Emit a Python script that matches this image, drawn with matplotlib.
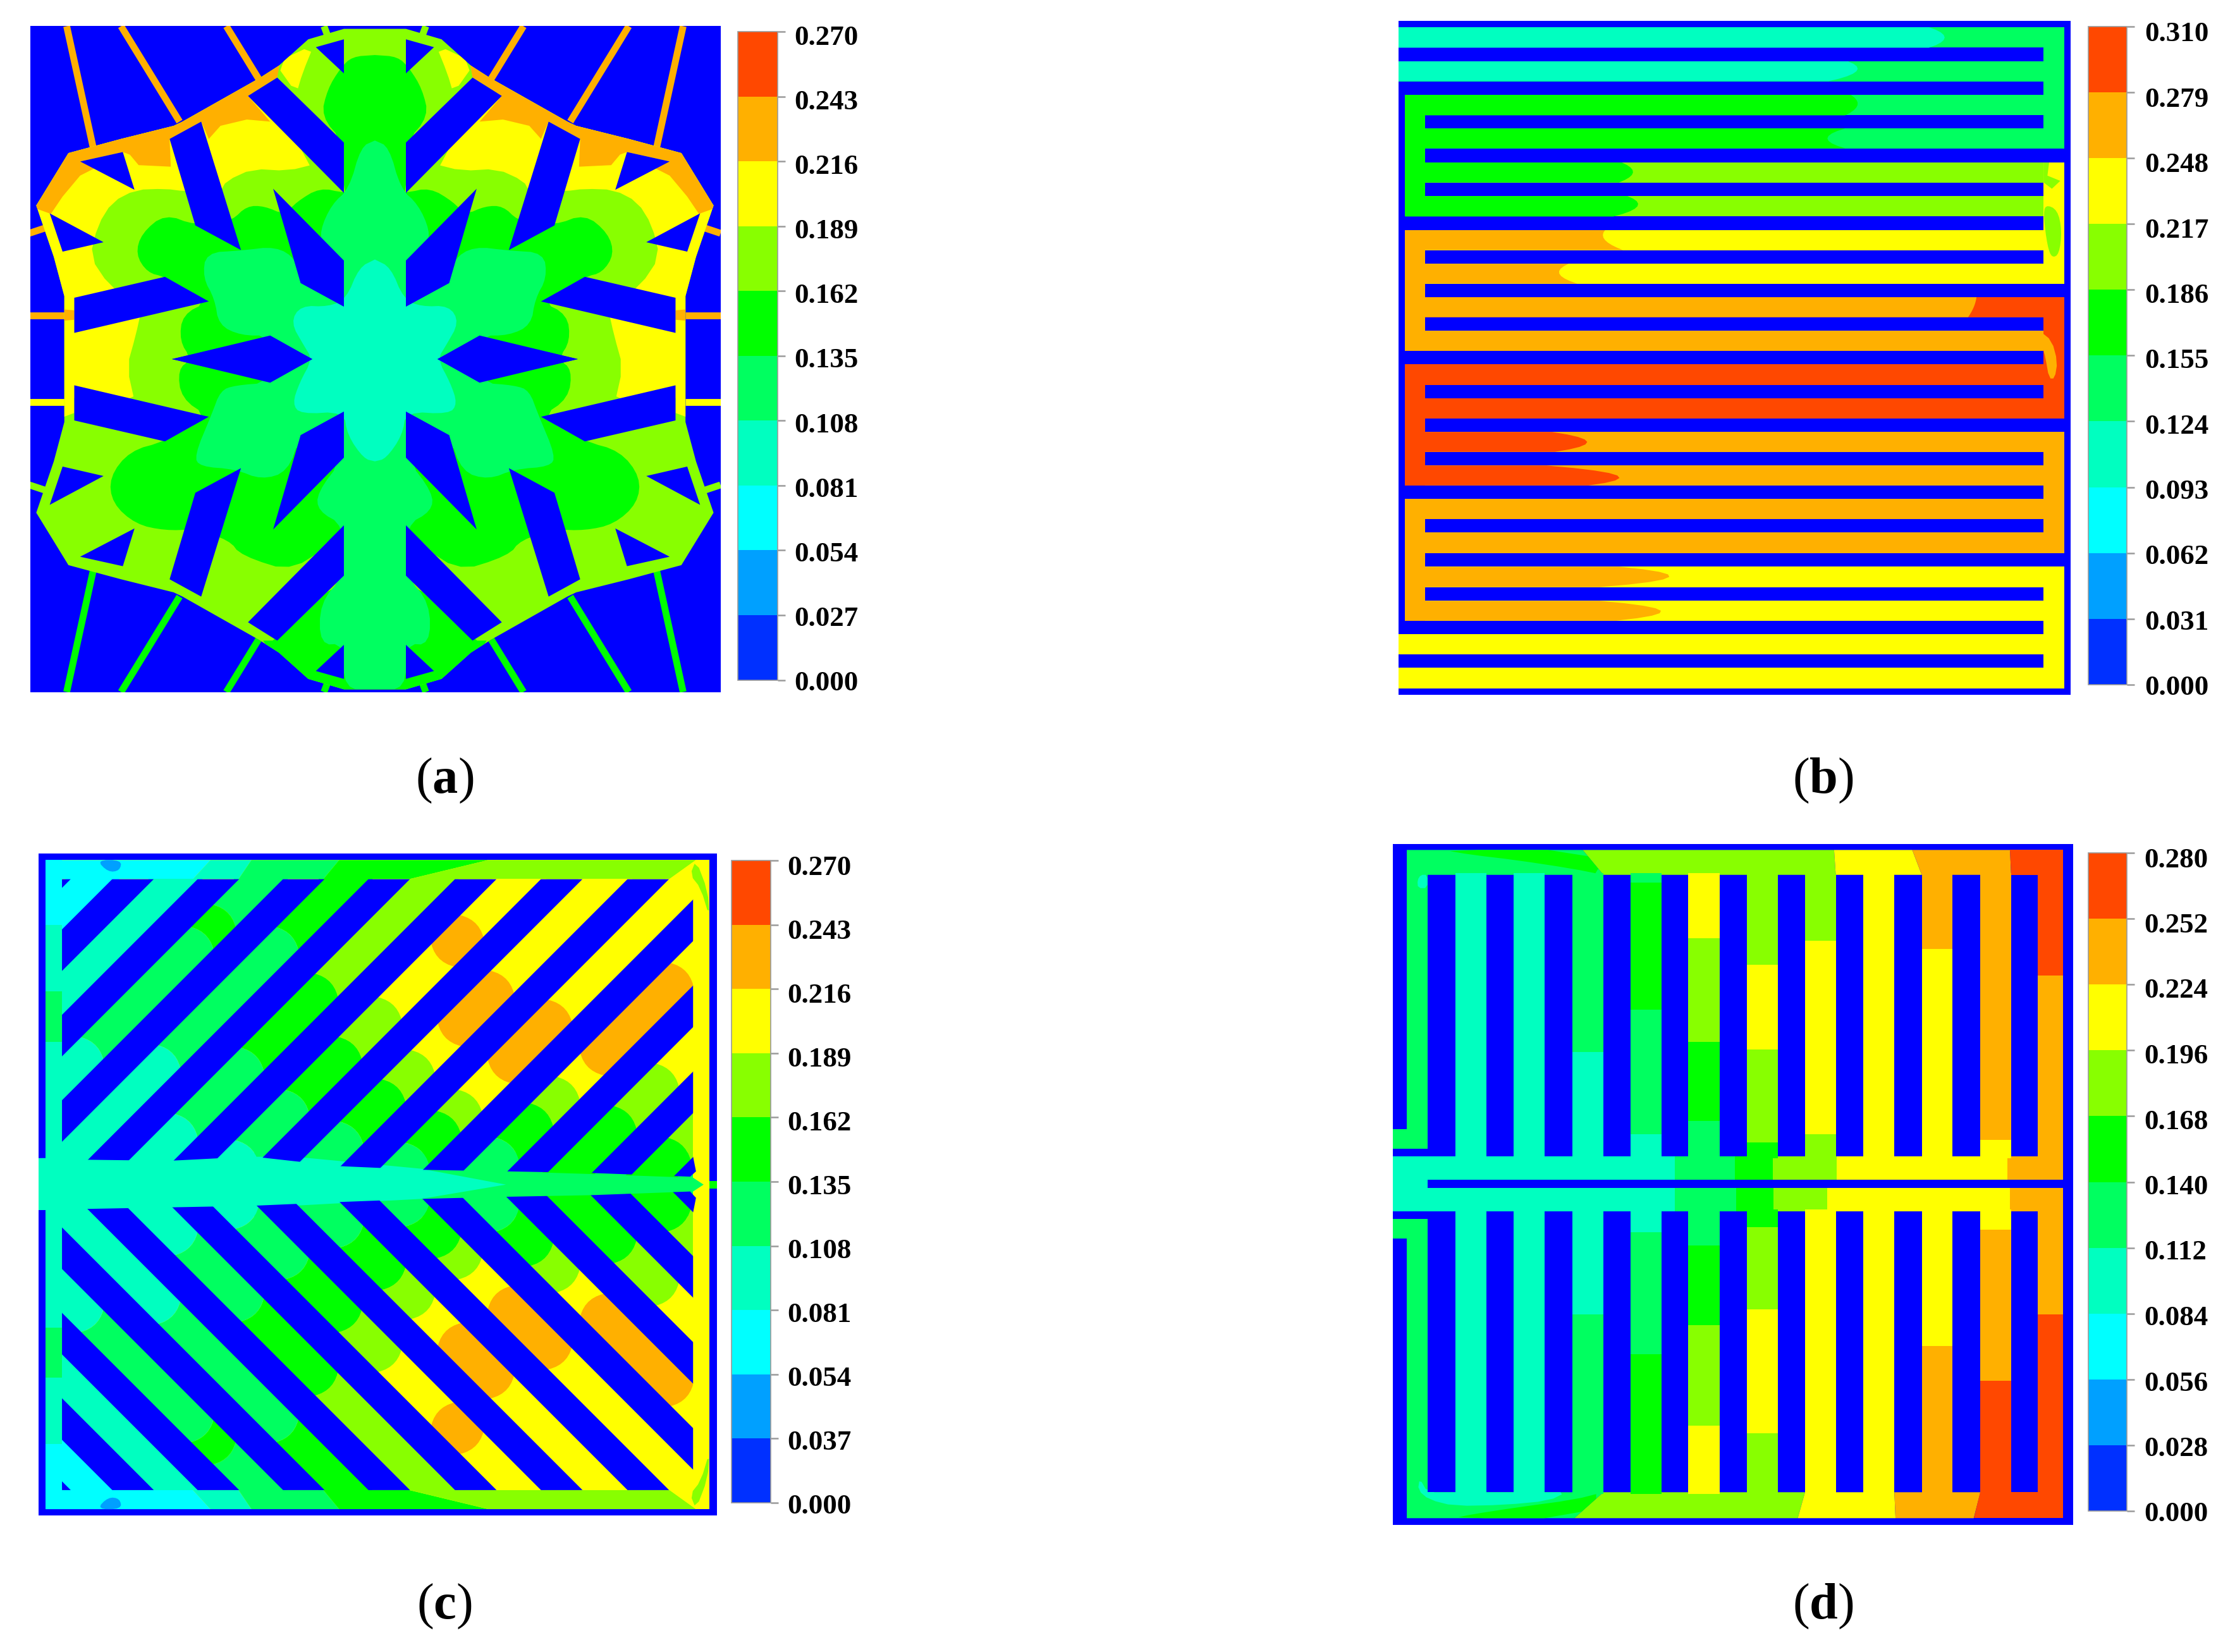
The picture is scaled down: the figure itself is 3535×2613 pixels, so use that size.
"""
Four contour panels of a flow-field channel plate with discrete 10 band colour bars.
Shapes are traced from the picture, coordinates are crop coordinates of each panel.
"""
import numpy as np
import matplotlib
matplotlib.use("Agg")
import matplotlib.pyplot as plt
from matplotlib.colors import ListedColormap, BoundaryNorm
from matplotlib.colorbar import ColorbarBase
from matplotlib.patches import Polygon

W, H = 3535, 2613
plt.rcParams["font.family"] = ["Liberation Serif", "DejaVu Serif"]
plt.rcParams["mathtext.fontset"] = "custom"
plt.rcParams["mathtext.bf"] = "Liberation Serif:bold"
plt.rcParams["mathtext.rm"] = "Liberation Serif"

# ---- colour bands ----
WALL = "#0000ff"
BAND_COLORS = ["#0030ff", "#00a0ff", "#00ffff", "#00ffc0", "#00ff60",
               "#00ff00", "#88ff00", "#ffff00", "#ffb000", "#ff4800"]

# ---- colour bar labels ----
TICKS_A = [0.000, 0.027, 0.054, 0.081, 0.108, 0.135, 0.162, 0.189, 0.216, 0.243, 0.270]
TICKS_B = [0.000, 0.031, 0.062, 0.093, 0.124, 0.155, 0.186, 0.217, 0.248, 0.279, 0.310]
TICKS_C = [0.000, 0.037, 0.054, 0.081, 0.108, 0.135, 0.162, 0.189, 0.216, 0.243, 0.270]
TICKS_D = [0.000, 0.028, 0.056, 0.084, 0.112, 0.140, 0.168, 0.196, 0.224, 0.252, 0.280]

# ---- panel a: snowflake, right half, mirrored in x about 641 and y about 685 ----
A_OUTLINE = [(641, 55), (694, 55), (755, 75), (805, 125), (840, 150), (970, 232), (985, 240),
             (1075, 265), (1165, 292), (1220, 392), (1190, 490), (1172, 565), (1172, 685)]
A_OBSTACLES = [
    [(694, 75), (742, 90), (694, 140)],
    [(694, 272), (808, 148), (858, 183), (694, 368)],
    [(694, 497), (815, 360), (768, 540), (694, 585)],
    [(938, 232), (992, 265), (948, 430), (870, 477)],
    [(1072, 290), (1145, 308), (1052, 362)],
    [(1197, 407), (1175, 480), (1105, 462)],
    [(1000, 528), (1155, 568), (1155, 635), (925, 575)],
    [(820, 640), (988, 685), (820, 728), (748, 685)],
]
# rib start, rib end, band
A_RIBS = [((840, 150), (895, 50), 8), ((975, 232), (1075, 50), 8), ((1122, 285), (1168, 50), 8),
          ((1205, 435), (1232, 445), 8), ((1172, 602), (1232, 602), 8), ((1172, 767), (1232, 767), 7),
          ((1205, 935), (1232, 925), 6), ((1122, 1085), (1168, 1320), 5), ((975, 1138), (1075, 1320), 5),
          ((840, 1220), (895, 1320), 5), ((722, 68), (728, 50), 6), ((722, 1302), (728, 1320), 5)]
A_YELLOW = [(740, 312), (790, 326), (850, 322), (895, 345), (905, 365), (965, 365), (1000, 360),
            (1050, 362), (1090, 385), (1115, 430), (1128, 490), (1095, 545), (1040, 590), (1050, 640),
            (1065, 700), (1050, 775), (1155, 745), (1155, 802), (1300, 805), (1300, 0), (870, 0),
            (830, 150), (858, 183)]
A_YELLOW_TOP = [(745, 85), (812, 120), (775, 178), (765, 140)]
A_ORANGE = [(800, 100), (1000, 200), (1180, 270), (1240, 390), (1195, 408), (1175, 375), (1145, 335),
            (1115, 318), (1145, 308), (1072, 290), (1060, 295), (1045, 315), (990, 318), (992, 265),
            (938, 232), (925, 265), (905, 240), (860, 228), (820, 232), (858, 183), (808, 148)]
A_ORANGE_STUB = [(1155, 592), (1175, 590), (1175, 612), (1155, 610)]
A_GREEN = [(641, 368), (694, 368), (735, 358), (775, 385), (795, 410), (830, 393), (860, 393), (885, 420),
           (905, 420), (948, 430), (1000, 408), (1040, 445), (1050, 485), (1030, 520), (1000, 528),
           (925, 575), (970, 600), (975, 650), (955, 685), (978, 705), (972, 760), (925, 795),
           (1000, 842), (1060, 860), (1095, 910), (1090, 960), (1050, 1000), (1000, 1012), (950, 1010),
           (890, 1030), (870, 1060), (775, 1093), (694, 1002), (641, 1002)]
A_GREEN_TOP = [(641, 105), (680, 108), (700, 130), (722, 170), (733, 222), (694, 272), (694, 400), (641, 400)]
A_GREEN_BOTTOM = [(641, 1130), (694, 1098), (808, 1222), (840, 1222), (770, 1290), (694, 1325), (641, 1325)]
A_SPRING = [(641, 268), (665, 280), (685, 360), (715, 390), (735, 440), (730, 470), (694, 497), (768, 540),
            (775, 495), (810, 470), (870, 478), (930, 482), (935, 530), (915, 570), (908, 620), (870, 640),
            (820, 640), (820, 730), (880, 735), (905, 745), (920, 790), (950, 870), (940, 890), (880, 895),
            (835, 915), (790, 900), (768, 830), (694, 873), (740, 940), (738, 975), (694, 1002), (694, 1098),
            (735, 1150), (735, 1230), (694, 1228), (694, 1315), (641, 1315)]
A_CENTER = [(641, 495), (668, 510), (690, 570), (720, 585), (768, 583), (785, 615), (762, 660), (748, 685),
            (770, 730), (782, 770), (768, 790), (694, 785), (688, 830), (660, 875), (641, 880)]

# ---- panel b: serpentine rows ----
B_ROW_TOP = [52, 117, 181, 245, 310, 374, 439, 503, 567, 631, 695, 760, 824, 888, 952, 1016, 1081, 1146, 1210, 1274]
B_ROW_BOT = [91, 155, 220, 283, 348, 413, 477, 541, 605, 669, 734, 798, 862, 926, 990, 1055, 1120, 1184, 1248, 1313]
B_ROW_START = [70, 70, 82, 82, 82, 82, 82, 82, 82, 82, 82, 82, 82, 82, 82, 82, 82, 82, 70, 70]
B_ROW_LEFT = [3, 3, 5, 5, 5, 5, 8, 8, 8, 8, 9, 9, 9, 9, 8, 8, 8, 8, 7, 7]
B_ROW_RIGHT = [4, 4, 4, 4, 6, 6, 7, 7, 9, 8, 9, 9, 8, 8, 8, 8, 7, 7, 7, 7]
B_EDGE_TOP = [1020, 875, 880, 870, 470, 480, 440, 375, 1105, 600, 600, 600, 345, 335, 600, 600, 465, 430, 600, 600]
B_TIP = [1048, 890, 892, 838, 490, 498, 440, 358, 1100, 600, 600, 600, 408, 462, 600, 600, 555, 540, 600, 600]
B_EDGE_BOT = [1020, 840, 870, 870, 465, 455, 472, 390, 1090, 600, 600, 600, 350, 410, 600, 600, 430, 460, 600, 600]
# connectors: top, bottom, band
B_LEFT_TURNS = [(181, 413, 5), (439, 669, 8), (695, 926, 9), (952, 1184, 8)]
B_RIGHT_TURNS = [(52, 283, 4), (310, 541, 7), (567, 798, 9), (824, 1055, 8), (1081, 1313, 7)]
B_LIME_TONGUE = [(1225, 413), (1228, 390), (1250, 400), (1258, 440), (1253, 485), (1240, 492), (1232, 470)]
B_LIME_TIP = [(1225, 310), (1235, 310), (1232, 335), (1255, 345), (1240, 360), (1225, 348)]
B_ORANGE_TONGUE = [(1218, 631), (1240, 650), (1250, 690), (1245, 722), (1235, 722), (1228, 680), (1225, 669)]

# ---- panel c: diagonal channels, upper half, mirrored in y about 685 ----
C_STRIPE_X = [50, 192, 338, 484, 630, 778, 925, 1073, 1220, 1367, 1514, 1660]
C_CHANNEL_X = [120, 262, 408, 553, 700, 850, 997, 1146, 1290, 1437, 1584]
C_CHANNEL_Y = [[108],
               [108],
               [108, 180, 222, 430],
               [108, 222, 445],
               [108, 310, 450, 575],
               [108, 200, 250, 355, 430, 530, 625],
               [108, 305, 400, 455, 510, 590],
               [108, 360, 470, 530, 570, 630],
               [108, 290, 455, 505, 555, 620],
               [108, 480, 560],
               [108, 620]]
C_CHANNEL_BAND = [[2],
                  [3],
                  [4, 5, 4, 3],
                  [5, 4, 3],
                  [6, 5, 4, 3],
                  [7, 8, 7, 6, 5, 4, 3],
                  [7, 8, 7, 6, 5, 4],
                  [7, 8, 7, 6, 5, 4],
                  [7, 8, 7, 6, 5, 4],
                  [7, 6, 5],
                  [6, 5]]
C_TOP_X_WALL = [78, 360, 430, 580, 835, 1190, 1213]
C_TOP_X_EDGE = [78, 330, 408, 553, 700, 1145, 1213]
C_TOP_BAND = [2, 3, 4, 5, 6, 7]
C_LEFT_Y = [72, 195, 320, 415, 685]
C_LEFT_BAND = [2, 3, 4, 3]
C_STRIPE_CLIP_UP = [(106, 108), (1185, 108), (1185, 632), (1190, 660), (1180, 670), (1010, 663), (865, 660),
                    (720, 657), (578, 650), (432, 632), (290, 640), (145, 638), (106, 638)]
C_STRIPE_CLIP_LOW = [(106, 1262), (1185, 1262), (1185, 738), (1190, 710), (1180, 698), (1010, 705), (865, 708),
                     (720, 712), (578, 718), (432, 725), (290, 728), (145, 731), (106, 731)]
C_SPINE_BED = [(78, 625), (1185, 625), (1185, 745), (78, 745)]
C_SPINE_COOL = [(66, 635), (500, 632), (720, 655), (865, 685), (720, 712), (500, 725), (66, 733)]
C_SPINE_WARM = [(720, 657), (865, 660), (1010, 665), (1185, 672), (1203, 685), (1185, 698), (1010, 705),
                (865, 708), (720, 712)]
C_BLOB = [(165, 72), (208, 72), (205, 92), (185, 95)]
C_CORNER = [(1190, 72), (1210, 130), (1213, 180), (1198, 125), (1180, 100)]

# ---- panel d: vertical fingers ----
D_BARS_X = [(122, 172), (228, 276), (332, 381), (437, 486), (541, 589), (645, 694), (749, 798),
            (853, 902), (958, 1007), (1062, 1112), (1167, 1215)]
D_COLUMNS_X = [(85, 122), (172, 228), (276, 332), (381, 437), (486, 541), (589, 645), (694, 749),
               (798, 853), (902, 958), (1007, 1062), (1112, 1167), (1215, 1260)]
D_UP_Y = [[100], [100], [100], [100, 435], [100, 115, 355, 590], [100, 220, 415, 565],
          [100, 270, 430, 605], [100, 225, 590], [100], [100, 240], [100, 600], [100, 290]]
D_UP_BAND = [[4], [3], [3], [4, 3], [4, 5, 4, 3], [7, 6, 5, 4],
             [6, 7, 6, 5], [6, 7, 6], [7], [8, 7], [8, 7], [9, 8]]
D_LOW_Y = [[735], [735], [735], [735, 930], [735, 775, 1005], [735, 800, 950, 1140],
           [735, 765, 920, 1155], [735], [735], [735, 990], [735, 770, 1055], [735, 930]]
D_LOW_BAND = [[4], [3], [3], [3, 4], [3, 4, 5], [4, 5, 6, 7],
              [5, 6, 7, 6], [7], [7], [7, 8], [7, 8, 9], [8, 9]]
D_TOP_X_WALL = [85, 400, 850, 990, 1165, 1260]
D_TOP_X_EDGE = [85, 437, 853, 1007, 1167, 1260]
D_TOP_BAND = [4, 6, 7, 8, 9]
D_TOP_WEDGE = [(150, 53), (400, 53), (437, 100), (380, 88), (280, 72), (200, 62)]
D_MID_UP_X = [60, 565, 672, 740, 855, 1160, 1260]
D_MID_UP_BAND = [3, 4, 5, 6, 7, 8]
D_MID_LOW_X = [60, 565, 675, 742, 838, 1165, 1260]
D_MID_LOW_BAND = [3, 4, 5, 6, 7, 8]
D_BOTTOM_X_WALL = [85, 385, 785, 960, 1100, 1260]
D_BOTTOM_X_EDGE = [85, 437, 798, 958, 1112, 1260]
D_BOTTOM_BAND = [4, 6, 7, 8, 9]
D_BOTTOM_WEDGE = [(170, 1315), (385, 1315), (437, 1266), (385, 1280), (280, 1295), (200, 1308)]
D_BOTTOM_COOL = [(108, 1240), (122, 1266), (172, 1266), (332, 1266), (370, 1266), (340, 1282), (260, 1290),
                 (170, 1292), (125, 1280), (105, 1262)]
D_TOP_COOL = [(105, 125), (122, 125), (122, 100), (110, 100), (104, 110)]


def chaikin(pts, n=2):
    p = np.asarray(pts, float)
    for _ in range(n):
        q = np.roll(p, -1, axis=0)
        p = np.column_stack([0.75 * p + 0.25 * q, 0.25 * p + 0.75 * q]).reshape(-1, 2)
    return p


def mx(pts, c=641):
    return [(2 * c - x, y) for x, y in pts]


def my(pts, c=685):
    return [(x, 2 * c - y) for x, y in pts]


def both_sides(pts):
    return list(pts) + mx(pts)[::-1]


def bend(a, tip, b, n=9):
    # quadratic curve from a to b through tip
    a, tip, b = np.asarray(a, float), np.asarray(tip, float), np.asarray(b, float)
    ctrl = 2 * tip - (a + b) / 2
    t = np.linspace(0, 1, n)[:, None]
    return (1 - t) ** 2 * a + 2 * t * (1 - t) * ctrl + t ** 2 * b


def panel(frame, origin, scale):
    # frame in crop coords -> axes at the matching figure pixels
    x0, x1, y0, y1 = frame
    ox, oy = origin
    sx, sy = scale
    left, right = ox + x0 / sx, ox + x1 / sx
    top, bot = oy + y0 / sy, oy + y1 / sy
    ax = fig.add_axes([left / W, 1 - bot / H, (right - left) / W, (bot - top) / H])
    ax.set_xlim(x0, x1)
    ax.set_ylim(y1, y0)
    ax.axis("off")
    ax.fill([x0, x1, x1, x0], [y0, y0, y1, y1], color=WALL, lw=0, zorder=0)
    return ax


def box(ax, x0, x1, y0, y1, band, z=1):
    return ax.fill([x0, x1, x1, x0], [y0, y0, y1, y1], color=BAND_COLORS[band], lw=0, zorder=z)[0]


def shape(ax, pts, band, z=2, clip=None, smooth=0):
    p = chaikin(pts, smooth) if smooth else np.asarray(pts, float)
    art = ax.fill(p[:, 0], p[:, 1], color=BAND_COLORS[band], lw=0, zorder=z)[0]
    if clip is not None:
        art.set_clip_path(clip)
    return art


def wall(ax, pts, z=8):
    p = np.asarray(pts, float)
    ax.fill(p[:, 0], p[:, 1], color=WALL, lw=0, zorder=z)


def colorbar(ticks, rect, label_x, label_top, label_bot):
    x0, x1, y0, y1 = rect
    cax = fig.add_axes([x0 / W, 1 - y1 / H, (x1 - x0) / W, (y1 - y0) / H])
    cmap = ListedColormap(BAND_COLORS)
    cb = ColorbarBase(cax, cmap=cmap, norm=BoundaryNorm(ticks, cmap.N), spacing="uniform",
                      ticks=ticks, orientation="vertical")
    cb.outline.set_edgecolor("#9a9a9a")
    cb.outline.set_linewidth(1.2)
    cb.minorticks_off()
    cax.tick_params(axis="y", length=8.5, width=1.8, color="#9a9a9a", labelright=False, labelleft=False)
    for i, t in enumerate(ticks):
        yc = label_bot + (label_top - label_bot) * i / (len(ticks) - 1)
        fig.text(label_x / W, 1 - (yc + 15.5) / H, f"{t:.3f}", fontsize=32.4, fontweight="bold",
                 ha="left", va="baseline", color="black")


fig = plt.figure(figsize=(W / 100, H / 100), dpi=100, facecolor="white")

# ---- panel a ----
ax = panel((52, 1232, 50, 1320), (0, 0), (1.081, 1.206))
right_side = A_OUTLINE + my(A_OUTLINE)[::-1]
flow = right_side + mx(right_side)[::-1]
for p0, p1, band in A_RIBS:
    for f in (lambda q: q, lambda q: mx([q])[0]):
        a, b = f(p0), f(p1)
        ax.plot([a[0], b[0]], [a[1], b[1]], color=BAND_COLORS[band], lw=7.8,
                solid_capstyle="butt", zorder=1)
flow_patch = Polygon(flow, closed=True, fc=BAND_COLORS[6], ec="none", zorder=2)
ax.add_patch(flow_patch)
for pts, band, sm in [(A_YELLOW, 7, 1), (A_YELLOW_TOP, 7, 1), (A_ORANGE, 8, 0), (A_ORANGE_STUB, 8, 0)]:
    shape(ax, pts, band, 3, flow_patch, sm)
    shape(ax, mx(pts), band, 3, flow_patch, sm)
shape(ax, both_sides(A_GREEN_TOP), 5, 4, flow_patch, 2)
shape(ax, both_sides(A_GREEN_BOTTOM), 5, 4, flow_patch, 1)
shape(ax, both_sides(A_GREEN), 5, 4, flow_patch, 2)
shape(ax, both_sides(A_SPRING), 4, 5, flow_patch, 2)
shape(ax, both_sides(A_CENTER), 3, 6, flow_patch, 2)
for ob in A_OBSTACLES:
    for q in (ob, mx(ob), my(ob), mx(my(ob))):
        wall(ax, q)
colorbar(TICKS_A, (1166.5, 1230, 50, 1075.5), 1256, 55.6, 1076.3)

# ---- panel b ----
ax = panel((70, 1273, 40, 1325), (2150, 0), (1.132, 1.206))
for i in range(len(B_ROW_TOP)):
    t, b = B_ROW_TOP[i], B_ROW_BOT[i]
    box(ax, B_ROW_START[i], 1262, t, b, B_ROW_RIGHT[i], 1)
    if B_ROW_LEFT[i] != B_ROW_RIGHT[i]:
        mid = (t + b) / 2
        curve = bend((B_EDGE_TOP[i], t), (B_TIP[i], mid), (B_EDGE_BOT[i], b))
        tongue = [(B_ROW_START[i], t)] + [tuple(q) for q in curve] + [(B_ROW_START[i], b)]
        shape(ax, tongue, B_ROW_LEFT[i], 2)
for t, b, band in B_LEFT_TURNS:
    box(ax, 82, 118, t, b, band, 3)
for t, b, band in B_RIGHT_TURNS:
    box(ax, 1225, 1262, t, b, band, 3)
shape(ax, B_LIME_TONGUE, 6, 4, smooth=2)
shape(ax, B_LIME_TIP, 6, 4)
shape(ax, B_ORANGE_TONGUE, 8, 4, smooth=1)
colorbar(TICKS_B, (3303, 3364, 41.5, 1083), 3392, 49.8, 1083.8)

# ---- panel c ----
ax = panel((66, 1226, 60, 1310), (0, 1300), (1.081, 1.194))
SLOPE = 1.105
box(ax, 78, 1213, 72, 1298, 7, 1)
box(ax, 66, 78, 635, 733, 3, 2)
box(ax, 1213, 1226, 678, 692, 5, 2)
shape(ax, C_SPINE_BED, 4, 2)


def cut(x_top, y, bulge):
    # contour across one channel, square to the channel, bowed along it
    left = x_top - 8 - (y - 25 - 108) / SLOPE
    right = x_top + 84 - (y + 25 - 108) / SLOPE
    mid = ((left + right) / 2 + 0.67 * bulge, y - 0.74 * bulge)
    return bend((left, y - 25), mid, (right, y + 25))


for flip in (False, True):
    m = my if flip else (lambda q: q)
    for i in range(len(C_TOP_BAND)):
        q = [(C_TOP_X_WALL[i], 72), (C_TOP_X_WALL[i + 1], 72), (C_TOP_X_EDGE[i + 1], 108), (C_TOP_X_EDGE[i], 108)]
        shape(ax, m(q), C_TOP_BAND[i], 2)
    for i in range(len(C_LEFT_BAND)):
        q = [(78, C_LEFT_Y[i]), (106, C_LEFT_Y[i]), (106, C_LEFT_Y[i + 1]), (78, C_LEFT_Y[i + 1])]
        shape(ax, m(q), C_LEFT_BAND[i], 2)
    clip = Polygon(m([(106, 108), (1185, 108), (1185, 685), (106, 685)]), closed=True, transform=ax.transData)
    for x_top, ys, bands in zip(C_CHANNEL_X, C_CHANNEL_Y, C_CHANNEL_BAND):
        starts = [20] + ys[1:]
        ends = ys[1:] + [800]
        for j, (y0, y1, band) in enumerate(zip(starts, ends, bands)):
            # the cooler side bows into the warmer one, orange patches bow out at both ends
            b0 = 0 if j == 0 else (-12 if bands[j - 1] == 8 else 12)
            b1 = 0 if j == len(bands) - 1 else (-12 if band == 8 else 12)
            if j and band == 8:
                b0 = 12
            top_edge = cut(x_top, y0, b0)
            bot_edge = cut(x_top, y1, b1)
            q = [tuple(v) for v in top_edge] + [tuple(v) for v in bot_edge[::-1]]
            art = shape(ax, m(q), band, 3)
            art.set_clip_path(clip)
    shape(ax, m(C_BLOB), 1, 4, smooth=2)
    shape(ax, m(C_CORNER), 6, 4, smooth=1)
    stripe_clip = Polygon(C_STRIPE_CLIP_LOW if flip else C_STRIPE_CLIP_UP, closed=True, transform=ax.transData)
    for x0 in C_STRIPE_X:
        bot = 108 + 620
        q = [(x0, 108), (x0 + 71, 108), (x0 + 71 - 620 / SLOPE, bot), (x0 - 620 / SLOPE, bot)]
        p = np.asarray(m(q))
        art = ax.fill(p[:, 0], p[:, 1], color=WALL, lw=0, zorder=8)[0]
        art.set_clip_path(stripe_clip)
shape(ax, C_SPINE_COOL, 3, 6)
shape(ax, C_SPINE_WARM, 4, 5)
colorbar(TICKS_C, (1157, 1219, 1361, 2377), 1245, 1368, 2379)

# ---- panel d ----
ax = panel((60, 1278, 42, 1328), (2150, 1300), (1.132, 1.194))
for i, band in enumerate(D_TOP_BAND):
    shape(ax, [(D_TOP_X_WALL[i], 53), (D_TOP_X_WALL[i + 1], 53), (D_TOP_X_EDGE[i + 1], 100), (D_TOP_X_EDGE[i], 100)], band, 2)
for i, band in enumerate(D_BOTTOM_BAND):
    shape(ax, [(D_BOTTOM_X_EDGE[i], 1266), (D_BOTTOM_X_EDGE[i + 1], 1266), (D_BOTTOM_X_WALL[i + 1], 1315), (D_BOTTOM_X_WALL[i], 1315)], band, 2)
for xs, bands, t, b in [(D_MID_UP_X, D_MID_UP_BAND, 632, 676), (D_MID_LOW_X, D_MID_LOW_BAND, 691, 735)]:
    for i, band in enumerate(bands):
        box(ax, xs[i], xs[i + 1], t, b, band, 2)
box(ax, 60, 122, 632, 735, 3, 2)
# columns run 3 units into the cross bands so no seam shows where they meet
for (x0, x1), ys, bands in zip(D_COLUMNS_X, D_UP_Y, D_UP_BAND):
    ends = ys[1:] + [617 if x0 == 85 else 635]
    starts = [97] + ys[1:]
    for y0, y1, band in zip(starts, ends, bands):
        box(ax, x0, x1, y0, y1, band, 2)
for (x0, x1), ys, bands in zip(D_COLUMNS_X, D_LOW_Y, D_LOW_BAND):
    ends = ys[1:] + [1269]
    starts = [750 if x0 == 85 else 732] + ys[1:]
    for y0, y1, band in zip(starts, ends, bands):
        box(ax, x0, x1, y0, y1, band, 2)
box(ax, 60, 122, 580, 617, 4, 2)
box(ax, 60, 122, 750, 787, 4, 2)
shape(ax, D_TOP_WEDGE, 5, 3, smooth=1)
shape(ax, D_BOTTOM_WEDGE, 5, 3, smooth=1)
shape(ax, D_BOTTOM_COOL, 3, 4, smooth=1)
shape(ax, D_TOP_COOL, 3, 4, smooth=1)
for x0, x1 in D_BARS_X:
    wall(ax, [(x0, 100), (x1, 100), (x1, 632), (x0, 632)], 5)
    wall(ax, [(x0, 735), (x1, 735), (x1, 1266), (x0, 1266)], 5)
wall(ax, [(122, 676), (1278, 676), (1278, 691), (122, 691)], 5)
colorbar(TICKS_D, (3303, 3364, 1349, 2390), 3391, 1356, 2391)

# ---- sub captions ----
for txt, x, y in [("a", 703, 1235), ("b", 2883, 1235), ("c", 703, 2541), ("d", 2883, 2541)]:
    fig.text(x / W, 1 - y / H, "(" + r"$\mathbf{" + txt + r"}$" + ")", fontsize=58,
             ha="center", va="center", color="black")

fig.savefig("out.png", dpi=100, facecolor="white")
